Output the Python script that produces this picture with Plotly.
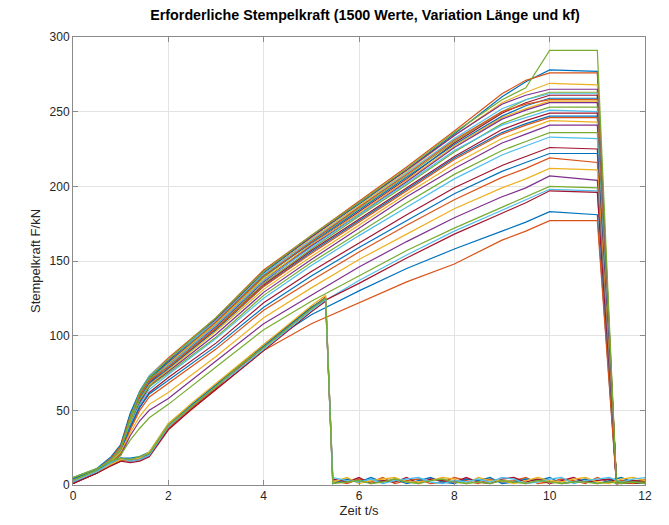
import plotly.graph_objects as go

# ---------------- data ----------------
# time grid of the curves that run to the end (s)
T_MAIN = [0, 0.5, 0.8, 1.0, 1.2, 1.4, 1.6, 2, 3, 4, 5, 6, 7, 8, 9, 9.5, 10, 11, 11.4, 12]

# Stempelkraft (kN) of representative curves that reach t = 11 s
MAIN_B = [2, 9, 16, 23, 44, 60, 71, 83, 111, 142, 166, 188, 211, 235, 260, 270, 278, 277, 1, 1]
MAIN_C = [4, 10, 18, 26, 47, 63, 73, 85, 112, 144, 167, 190, 213, 237, 262, 271, 276, 276, 3, 2]
MAIN_D = [1, 8, 15, 22, 42, 58, 70, 82, 110, 141, 165, 187, 210, 234, 256, 263, 269, 268, 2, 3]
MAIN_Z1 = [3, 9, 17, 25, 46, 62, 72, 83, 111, 143, 166, 189, 211, 234, 255, 261, 265, 265, 2, 1]
MAIN_E = [3, 9, 17, 25, 46, 61, 71, 81, 108, 139, 163, 185, 207, 230, 250, 258, 263, 263, 1, 2]
MAIN_Z2 = [2, 10, 18, 26, 47, 63, 73, 84, 110, 141, 164, 186, 209, 232, 252, 258, 262, 262, 1, 2]
MAIN_F = [2, 8, 15, 21, 40, 56, 68, 80, 107, 137, 161, 183, 205, 229, 249, 256, 261, 261, 2, 1]
MAIN_G = [5, 11, 19, 27, 48, 62, 72, 82, 109, 140, 162, 184, 206, 228, 247, 254, 259, 259, 3, 3]
MAIN_Z3 = [4, 9, 16, 23, 43, 59, 70, 81, 109, 140, 163, 186, 208, 231, 250, 255, 258, 258, 3, 2]
MAIN_Z4 = [1, 8, 15, 22, 41, 58, 69, 81, 108, 138, 161, 182, 204, 227, 246, 252, 257, 257, 2, 3]
MAIN_H = [2, 9, 16, 22, 41, 57, 69, 80, 106, 136, 160, 181, 203, 226, 245, 251, 256, 256, 1, 2]
MAIN_I = [3, 10, 17, 24, 44, 60, 70, 79, 105, 135, 158, 180, 201, 223, 242, 248, 253, 253, 2, 1]
MAIN_Z5 = [3, 10, 17, 24, 44, 60, 70, 80, 107, 137, 159, 181, 202, 224, 241, 246, 251, 250, 1, 1]
MAIN_J = [1, 8, 14, 20, 38, 54, 66, 78, 104, 134, 157, 178, 199, 220, 238, 244, 249, 249, 2, 2]
MAIN_Z6 = [2, 9, 16, 23, 42, 58, 68, 78, 104, 133, 156, 177, 198, 219, 236, 242, 247, 247, 2, 2]
MAIN_K = [4, 10, 18, 26, 46, 60, 70, 79, 105, 133, 155, 176, 197, 218, 235, 241, 246, 246, 3, 2]
MAIN_L = [2, 9, 16, 23, 42, 57, 67, 77, 103, 131, 153, 174, 195, 215, 232, 238, 244, 243, 1, 1]
MAIN_M = [3, 9, 15, 21, 39, 55, 66, 76, 101, 129, 151, 172, 193, 212, 229, 235, 241, 241, 2, 3]
MAIN_N = [2, 8, 16, 24, 43, 57, 66, 75, 99, 127, 149, 169, 189, 208, 224, 230, 236, 236, 1, 2]
MAIN_O = [4, 10, 17, 22, 40, 54, 64, 74, 98, 125, 147, 167, 186, 205, 221, 227, 233, 232, 2, 1]
MAIN_P = [1, 8, 15, 21, 38, 52, 62, 72, 95, 122, 143, 162, 181, 199, 214, 220, 226, 225, 3, 2]
MAIN_Q = [3, 9, 16, 22, 39, 52, 61, 70, 93, 119, 140, 159, 177, 195, 210, 216, 222, 222, 2, 2]
MAIN_R = [2, 9, 15, 21, 37, 50, 59, 68, 91, 117, 137, 156, 174, 191, 206, 212, 219, 216, 1, 1]
MAIN_S = [3, 10, 16, 22, 35, 46, 54, 62, 86, 112, 132, 151, 168, 185, 199, 205, 212, 211, 2, 3]
MAIN_T = [2, 8, 14, 20, 33, 43, 50, 58, 83, 108, 127, 146, 163, 179, 193, 199, 207, 204, 1, 2]
MAIN_U = [3, 9, 15, 20, 30, 38, 45, 54, 79, 104, 123, 140, 157, 172, 186, 193, 200, 199, 2, 1]
MAIN_V = [2, 9, 14, 17, 16, 17, 20, 39, 66, 93, 118, 137, 154, 170, 184, 191, 198, 197, 2, 2]
MAIN_W = [3, 8, 13, 16, 17, 18, 21, 40, 67, 94, 119, 135, 152, 168, 182, 189, 197, 196, 1, 1]
MAIN_X = [2, 9, 15, 18, 18, 19, 22, 41, 67, 93, 114, 130, 145, 158, 170, 176, 183, 181, 2, 3]
MAIN_Y = [4, 10, 15, 17, 16, 17, 20, 38, 64, 90, 108, 122, 136, 148, 164, 170, 177, 177, 1, 2]
MAIN_A = [3, 10, 17, 24, 45, 62, 72, 84, 112, 143, 167, 189, 212, 236, 258, 266, 291, 291, 2, 2]

# curves of the lower bundle that collapse at about 5.3 s
T_LOW = [0, 0.5, 0.8, 1.0, 1.2, 1.4, 1.6, 2, 2.5, 3, 3.5, 4, 4.5, 5, 5.3]
T_TAIL = [5.45, 5.75, 6.0, 6.25, 6.5, 6.75, 7.0, 7.25, 7.5, 7.75, 8.0, 8.25, 8.5, 8.75,
          9.0, 9.25, 9.5, 9.75, 10.0, 10.25, 10.5, 10.75, 11.0, 11.25, 11.5, 11.75, 12.0]

LOW_1 = [2, 9, 14, 17, 16, 17, 20, 38, 52, 65, 79, 92, 105, 118, 126]
LOW_2 = [4, 10, 15, 18, 17, 18, 21, 40, 54, 67, 80, 93, 106, 119, 125]
LOW_3 = [1, 8, 13, 16, 15, 16, 19, 37, 51, 64, 77, 90, 103, 116, 123]
LOW_4 = [3, 9, 14, 17, 17, 18, 22, 41, 55, 68, 81, 94, 107, 120, 127]
LOW_5 = [2, 9, 15, 18, 16, 17, 20, 39, 53, 66, 78, 91, 104, 117, 124]
LOW_6 = [5, 11, 16, 18, 17, 19, 21, 40, 53, 66, 80, 92, 105, 118, 125]

TAIL_1 = [3, 1, 4, 2, 5, 1, 3, 4, 1, 2, 5, 3, 1, 4, 2, 3, 5, 1, 2, 4, 3, 1, 5, 2, 3, 1, 4]
TAIL_2 = [1, 4, 2, 5, 2, 4, 1, 3, 5, 2, 1, 4, 3, 5, 1, 2, 4, 3, 5, 1, 2, 4, 1, 3, 5, 2, 1]
TAIL_3 = [4, 2, 5, 1, 3, 2, 5, 1, 4, 3, 2, 5, 2, 1, 4, 5, 2, 4, 1, 3, 5, 2, 3, 4, 1, 3, 2]
TAIL_4 = [2, 5, 1, 3, 4, 5, 2, 2, 3, 5, 4, 1, 5, 3, 3, 1, 3, 5, 3, 2, 4, 5, 2, 1, 4, 5, 3]
TAIL_5 = [5, 3, 2, 4, 1, 3, 4, 5, 2, 1, 3, 2, 4, 2, 5, 4, 1, 2, 4, 5, 1, 3, 4, 5, 2, 4, 5]
TAIL_6 = [1, 2, 3, 1, 2, 4, 2, 1, 3, 4, 2, 1, 2, 1, 3, 2, 1, 3, 2, 1, 2, 2, 1, 2, 1, 2, 1]

X_TICKS = [0, 2, 4, 6, 8, 10, 12]
Y_TICKS = [0, 50, 100, 150, 200, 250, 300]

TITLE = "Erforderliche Stempelkraft (1500 Werte, Variation Länge und kf)"
X_LABEL = "Zeit t/s"
Y_LABEL = "Stempelkraft F/kN"

# ---------------- styling ----------------
COLORS = ["#0072BD", "#D95319", "#EDB120", "#7E2F8E", "#77AC30", "#4DBEEE", "#A2142F"]
FONT = "Liberation Sans, Arial, Helvetica, sans-serif"
TXT = "#262626"

# the page body adds an 8 px offset, so the figure is 8 px smaller on each axis
W, H = 661, 517

fig = go.Figure()

main_curves = [MAIN_B, MAIN_C, MAIN_D, MAIN_Z1, MAIN_E, MAIN_Z2, MAIN_F, MAIN_G, MAIN_Z3,
               MAIN_Z4, MAIN_H, MAIN_I, MAIN_Z5, MAIN_J, MAIN_Z6, MAIN_K, MAIN_L, MAIN_M,
               MAIN_N, MAIN_O, MAIN_P, MAIN_Q, MAIN_R, MAIN_S, MAIN_T, MAIN_U, MAIN_V,
               MAIN_W, MAIN_X, MAIN_Y]
low_curves = [(LOW_1, TAIL_1), (LOW_2, TAIL_2), (LOW_3, TAIL_3),
              (LOW_4, TAIL_4), (LOW_5, TAIL_5), (LOW_6, TAIL_6)]

for ci, ys in enumerate(main_curves):
    fig.add_trace(go.Scatter(x=T_MAIN, y=ys, mode="lines",
                             line=dict(color=COLORS[ci % 7], width=1.2),
                             hoverinfo="skip", showlegend=False))

low_colors = ["#D95319", "#0072BD", "#A2142F", "#EDB120", "#4DBEEE", "#77AC30"]
for k, (rise, tail) in enumerate(low_curves):
    fig.add_trace(go.Scatter(x=T_LOW + T_TAIL, y=rise + tail, mode="lines",
                             line=dict(color=low_colors[k], width=1.3),
                             hoverinfo="skip", showlegend=False))

fig.add_trace(go.Scatter(x=T_MAIN, y=MAIN_A, mode="lines",
                         line=dict(color="#77AC30", width=1.2),
                         hoverinfo="skip", showlegend=False))

axis_common = dict(showline=True, linecolor="#8a8a8a", linewidth=1, mirror="ticks",
                   ticks="inside", ticklen=5, tickcolor="#8a8a8a", automargin=False,
                   showgrid=True, gridcolor="#e3e3e3", gridwidth=1, zeroline=False,
                   tickfont=dict(family=FONT, size=12, color=TXT))

fig.update_layout(
    width=W, height=H,
    paper_bgcolor="white", plot_bgcolor="white",
    margin=dict(l=65, r=24, t=29, b=40, autoexpand=False),
    title=dict(text="<b>" + TITLE + "</b>", x=357 / W, xanchor="center",
               y=1 - 7 / H, yanchor="middle", automargin=False,
               font=dict(family=FONT, size=14.3, color="black")),
    xaxis=dict(range=[0, 12], tickvals=X_TICKS,
               title=dict(text=X_LABEL, font=dict(family=FONT, size=13, color=TXT), standoff=2),
               **axis_common),
    yaxis=dict(range=[0, 300], tickvals=Y_TICKS,
               title=dict(text=Y_LABEL, font=dict(family=FONT, size=13, color=TXT), standoff=6),
               **axis_common),
    hovermode=False,
)

fig.write_html("out.html")
